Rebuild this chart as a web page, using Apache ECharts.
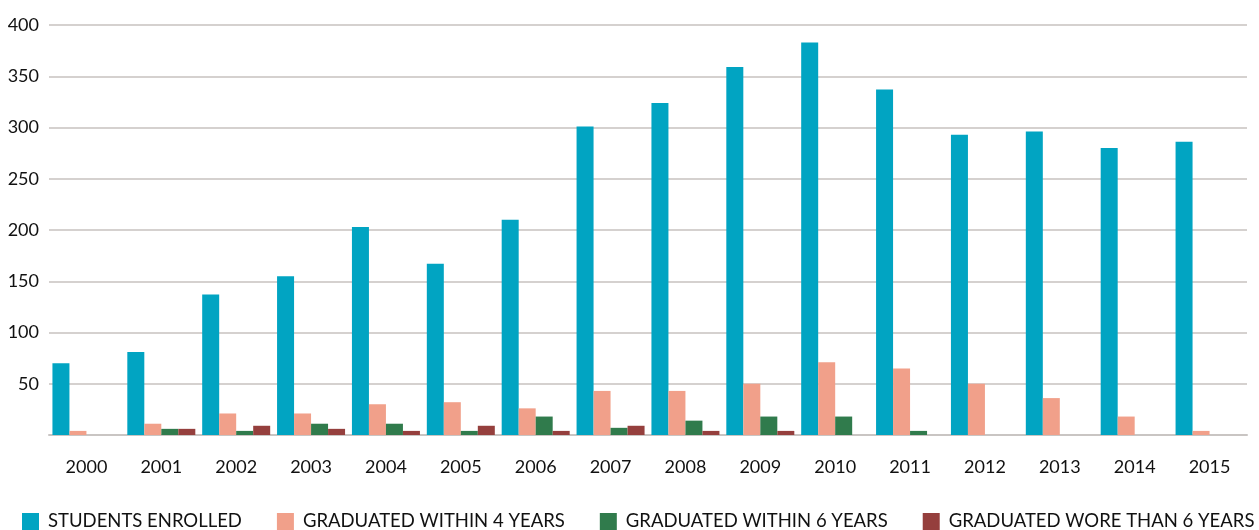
<!DOCTYPE html>
<html>
<head>
<meta charset="utf-8">
<script src="https://cdn.jsdelivr.net/npm/echarts@6/dist/echarts.min.js"></script>
<style>
  html, body { margin: 0; padding: 0; background: #fff; }
  #chart { width: 1259px; height: 530px; }
</style>
</head>
<body>
<div id="chart"></div>
<script>
// values
const years = ['2000', '2001', '2002', '2003', '2004', '2005', '2006', '2007',
               '2008', '2009', '2010', '2011', '2012', '2013', '2014', '2015'];
const enrolled   = [70, 81, 137, 155, 203, 167, 210, 301, 324, 359, 383, 337, 293, 296, 280, 286];
const within4    = [4, 11, 21, 21, 30, 32, 26, 43, 43, 50, 71, 65, 50, 36, 18, 4];
const within6    = [0, 6, 4, 11, 11, 4, 18, 7, 14, 18, 18, 4, 0, 0, 0, 0];
const moreThan6  = [0, 6, 9, 6, 4, 9, 4, 9, 4, 4, 0, 0, 0, 0, 0, 0];
const seriesNames = ['STUDENTS ENROLLED', 'GRADUATED WITHIN 4 YEARS',
                     'GRADUATED WITHIN 6 YEARS', 'GRADUATED WORE THAN 6 YEARS'];
const colors = ['#01a4c2', '#f1a08a', '#307b4c', '#953f3d'];

const font = 'Lato, "Open Sans", sans-serif';
const chart = echarts.init(document.getElementById('chart'));

const series = [enrolled, within4, within6, moreThan6].map((d, i) => ({
    name: seriesNames[i],
    type: 'bar',
    data: d.map(v => (v === 0 ? null : v)),
    barWidth: 17,
    barGap: '0%',
    itemStyle: {color: colors[i]}
}));

const option = {
    animation: false,
    color: colors,
    grid: {left: 49, right: 12, top: 25, bottom: 95},
    legend: {
        left: 22,
        top: 512,
        width: 1400,
        padding: 0,
        itemWidth: 17,
        itemHeight: 17,
        itemGap: 35,
        icon: 'rect',
        textStyle: {fontFamily: font, fontSize: 18.5, color: '#111', padding: [0, 0, 0, 4]},
        data: seriesNames
    },
    xAxis: {
        type: 'category',
        data: years,
        axisTick: {show: false},
        axisLine: {lineStyle: {color: '#c9c5c3', width: 2}},
        axisLabel: {fontFamily: font, fontSize: 18, color: '#111', margin: 23}
    },
    yAxis: {
        type: 'value',
        min: 0,
        max: 400,
        interval: 50,
        axisLine: {show: false},
        axisTick: {show: false},
        splitLine: {lineStyle: {color: '#d5d1cf', width: 2}},
        axisLabel: {
            fontFamily: font, fontSize: 18, color: '#111', margin: 10,
            formatter: v => (v === 0 ? '' : v)
        }
    },
    series: series
};

chart.setOption(option);
</script>
</body>
</html>
